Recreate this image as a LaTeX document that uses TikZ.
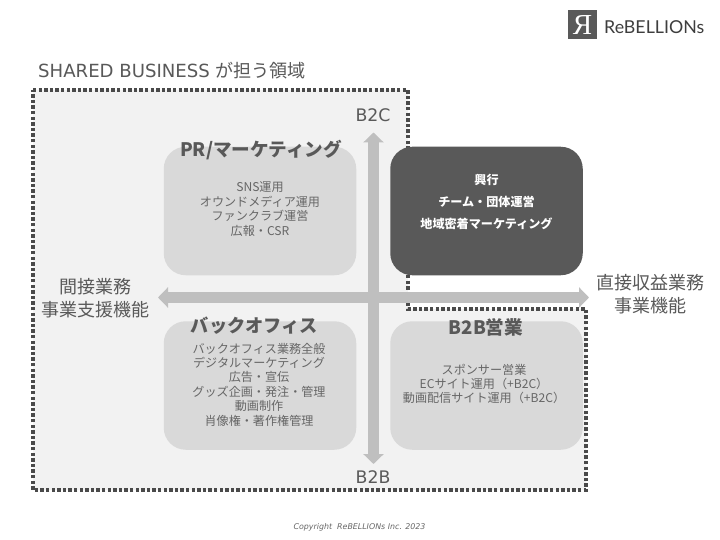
\documentclass[tikz,border=0pt]{standalone}
\usepackage{fontspec}
\usetikzlibrary{arrows.meta}
\setmainfont{Noto Sans CJK JP}
\newfontfamily\lat{DejaVu Sans}
\newfontfamily\logofont{Liberation Serif}
\newfontfamily\namefont{Lato}
\definecolor{ink}{HTML}{595959}
\definecolor{dots}{HTML}{4A4A4A}
\definecolor{txt}{HTML}{666666}
\definecolor{panel}{HTML}{D9D9D9}
\definecolor{zone}{HTML}{F2F2F2}
\definecolor{axis}{HTML}{BFBFBF}
\tikzset{
  quad/.style={rounded corners=22pt,minimum width=192.5pt,minimum height=128.5pt,inner sep=0pt,fill=panel},
  axisline/.style={line width=11pt,draw=axis,{Triangle[length=10pt,width=20pt]}-{Triangle[length=10pt,width=20pt]}},
  head/.style={font=\bfseries\fontsize{18.6}{20}\selectfont,text=ink,inner sep=0pt},
  body/.style={font=\fontsize{12.1}{14.4}\selectfont,text=txt,align=center,inner sep=0pt},
  axlabel/.style={font=\fontsize{18}{23}\selectfont,text=ink,align=center,inner sep=0pt},
}
\begin{document}
\begin{tikzpicture}[x=1pt,y=-1pt]
\useasboundingbox (0,0) rectangle (720,540);
\fill[white] (0,0) rectangle (720,540);
\draw[fill=zone,draw=dots,line width=4pt,dash pattern=on 3.4pt off 2.2pt]
  (33,90) -- (408,90) -- (408,309) -- (586,309) -- (586,490) -- (33,490) -- cycle;
\node[quad] (pr) at (260,211) {};
\node[quad,fill=ink] (live) at (486.5,211) {};
\node[quad] (back) at (260,385.5) {};
\node[quad] (b2b) at (486.5,385.5) {};
\coordinate (axL) at (158,297.5);
\coordinate (axR) at (589,297.5);
\coordinate (axT) at (373.5,132.5);
\coordinate (axB) at (373.5,464);
\draw[axisline] (axL) -- (axR);
\draw[axisline] (axT) -- (axB);
\node[inner sep=0pt,text=ink,font=\lat\fontsize{18.1}{20}\selectfont,anchor=west] (title) at (38,71) {SHARED BUSINESS {\rmfamily が担う領域}};
\node[axlabel,font=\lat\fontsize{17.3}{20}\selectfont] (b2c) at (373,115) {B2C};
\node[axlabel,font=\lat\fontsize{17.3}{20}\selectfont] (b2bl) at (373,477) {B2B};
\node[axlabel] (left) at (95.5,298.5) {間接業務\\事業支援機能};
\node[axlabel] (right) at (650.5,294.5) {直接収益業務\\事業機能};
\node[head] (h1) at (261,150) {PR/マーケティング};
\node[head,font=\bfseries\fontsize{18.2}{20}\selectfont] (h2) at (254.5,325.5) {バックオフィス};
\node[head] (h3) at (486,327) {B2B営業};
\node[body] (t1) at (260,209) {SNS運用\\オウンドメディア運用\\ファンクラブ運営\\広報・CSR};
\node[body] (t2) at (259,384.5) {バックオフィス業務全般\\デジタルマーケティング\\広告・宣伝\\グッズ企画・発注・管理\\動画制作\\肖像権・著作権管理};
\node[body] (t3) at (484,384) {スポンサー営業\\ECサイト運用（+B2C）\\動画配信サイト運用（+B2C）};
\node[body,text=white,font=\bfseries\fontsize{12.1}{22}\selectfont] (t4) at (486.5,202) {興行\\チーム・団体運営\\地域密着マーケティング};
\node[fill=ink,minimum size=29pt,inner sep=0pt,text=white,font=\logofont\fontsize{29}{29}\selectfont] (mark) at (582.5,25) {Я};
\node[inner sep=0pt,anchor=west,text=ink!70!black,font=\namefont\fontsize{17.8}{20}\selectfont] (name) at (604,27) {ReBELLIONs};
\node[inner sep=0pt,text=txt,font=\lat\itshape\fontsize{7.9}{9}\selectfont] (copy) at (359.5,527) {Copyright\ \ ReBELLIONs Inc. 2023};
\end{tikzpicture}
\end{document}
